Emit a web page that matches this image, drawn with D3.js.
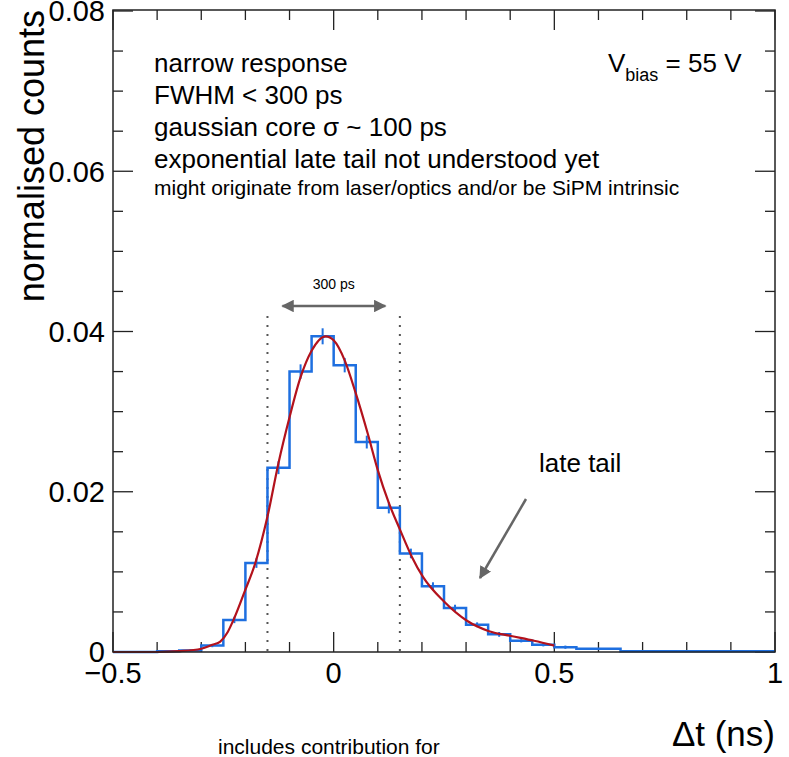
<!DOCTYPE html>
<head>
  <meta charset="utf-8">
  <script src="https://cdn.jsdelivr.net/npm/d3@7"></script>
  <style>
    body { margin: 0; background: #fff; }
    text { font-family: "Liberation Sans", Arial, Helvetica, sans-serif; fill: #000; }
  </style>
</head>
<body>
  <div id="chartDiv"></div>
  <script>

    // histogram: lower bin edges (ns) and normalised counts
    var binLow = [-0.50, -0.45, -0.40, -0.35, -0.30, -0.25, -0.20, -0.15, -0.10, -0.05,
                  0.00, 0.05, 0.10, 0.15, 0.20, 0.25, 0.30, 0.35, 0.40, 0.45,
                  0.50, 0.55, 0.60, 0.65, 0.70, 0.75, 0.80, 0.85, 0.90, 0.95];
    var binWidth = 0.05;
    var counts = [0, 0, 0.0001, 0.0002, 0.0008, 0.0040, 0.0111, 0.0230, 0.0350, 0.0394,
                  0.0358, 0.0262, 0.0180, 0.0123, 0.0082, 0.0055, 0.0034, 0.0022, 0.0014, 0.0009,
                  0.0006, 0.0004, 0.0004, 0.0001, 0.0001, 0.0001, 0.0001, 0.0001, 0.0001, 0.0001];
    var errors = [0, 0, 0.0001, 0.0001, 0.0002, 0.0004, 0.0006, 0.0008, 0.0009, 0.0010,
                  0.0009, 0.0008, 0.0007, 0.0006, 0.0005, 0.0004, 0.0003, 0.0003, 0.0002, 0.0002,
                  0.0002, 0.0001, 0.0001, 0.0001, 0.0001, 0.0001, 0.0001, 0.0001, 0.0001, 0.0001];

    // fitted curve
    var fitT = [-0.5, -0.4, -0.35, -0.30, -0.275, -0.257, -0.24, -0.227, -0.202, -0.177,
                -0.15, -0.125, -0.1, -0.075, -0.05, -0.018, 0, 0.025, 0.05, 0.077,
                0.1, 0.125, 0.15, 0.177, 0.202, 0.25, 0.302, 0.352, 0.402, 0.454, 0.5];
    var fitV = [0, 0, 0.0001, 0.0004, 0.0009, 0.0013, 0.0025, 0.0040, 0.0075, 0.0112,
                0.0169, 0.0236, 0.0293, 0.0343, 0.0376, 0.0394, 0.0389, 0.0364, 0.0323, 0.0273,
                0.0227, 0.0186, 0.0153, 0.0119, 0.0094, 0.0063, 0.0039, 0.0026, 0.0020, 0.0014, 0.0008];

    var xMajor = [-0.5, 0, 0.5, 1];
    var xMajorLabels = ["\u22120.5", "0", "0.5", "1"];
    var xMinor = [-0.4, -0.3, -0.2, -0.1, 0.1, 0.2, 0.3, 0.4, 0.6, 0.7, 0.8, 0.9];
    var yMajor = [0, 0.02, 0.04, 0.06, 0.08];
    var yMajorLabels = ["0", "0.02", "0.04", "0.06", "0.08"];
    var yMinor = [0.005, 0.01, 0.015, 0.025, 0.03, 0.035, 0.045, 0.05, 0.055, 0.065, 0.07, 0.075];
    var fwhmLimits = [-0.15, 0.15];

    var infoLines = ["narrow response", "FWHM < 300 ps", "gaussian core \u03c3 ~ 100 ps",
                     "exponential late tail not understood yet"];
    var noteLine = "might originate from laser/optics and/or be SiPM intrinsic";

    var W = 789, H = 757;
    var mLeft = 113, mRight = 775, mTop = 10, mBottom = 652;

    var x = d3.scaleLinear().domain([-0.5, 1]).range([mLeft, mRight]);
    var y = d3.scaleLinear().domain([0, 0.08]).range([mBottom, 11]);

    var svg = d3.select("#chartDiv").append("svg")
        .attr("width", W)
        .attr("height", H);

    var defs = svg.append("defs");
    defs.append("marker")
        .attr("id", "head")
        .attr("viewBox", "0 0 10 10")
        .attr("refX", 9).attr("refY", 5)
        .attr("markerWidth", 5).attr("markerHeight", 5)
        .attr("markerUnits", "strokeWidth")
        .attr("orient", "auto-start-reverse")
      .append("path")
        .attr("d", "M0,0 L10,5 L0,10 z")
        .style("fill", "#666");

    // ticks on all four sides, ROOT style (pointing inwards)
    var tickG = svg.append("g").style("stroke", "#222").style("stroke-width", 1.3);
    function xTicks(vals, len) {
      vals.forEach(function(v) {
        tickG.append("line").attr("x1", x(v)).attr("x2", x(v)).attr("y1", mBottom).attr("y2", mBottom - len);
        tickG.append("line").attr("x1", x(v)).attr("x2", x(v)).attr("y1", mTop).attr("y2", mTop + len);
      });
    }
    function yTicks(vals, len) {
      vals.forEach(function(v) {
        tickG.append("line").attr("x1", mLeft).attr("x2", mLeft + len).attr("y1", y(v)).attr("y2", y(v));
        tickG.append("line").attr("x1", mRight).attr("x2", mRight - len).attr("y1", y(v)).attr("y2", y(v));
      });
    }
    xTicks(xMajor, 20);
    xTicks(xMinor, 10);
    yTicks(yMajor, 20);
    yTicks(yMinor, 10);

    // dotted FWHM markers
    svg.selectAll("line.fwhm")
        .data(fwhmLimits)
      .enter().append("line")
        .attr("class", "fwhm")
        .attr("x1", function(d) { return x(d); })
        .attr("x2", function(d) { return x(d); })
        .attr("y1", 316)
        .attr("y2", mBottom)
        .style("stroke", "#555")
        .style("stroke-width", 2)
        .style("stroke-dasharray", "2,7");

    // histogram
    var histPts = binLow.map(function(b, i) { return [b, counts[i]]; });
    histPts.push([binLow[binLow.length - 1] + binWidth, counts[counts.length - 1]]);
    var stepLine = d3.line()
        .x(function(d) { return x(d[0]); })
        .y(function(d) { return y(d[1]); })
        .curve(d3.curveStepAfter);
    svg.append("path")
        .attr("d", stepLine(histPts))
        .style("fill", "none")
        .style("stroke", "#1e6fe0")
        .style("stroke-width", 2.5);

    svg.selectAll("line.err")
        .data(binLow)
      .enter().append("line")
        .attr("class", "err")
        .attr("x1", function(d) { return x(d + binWidth / 2); })
        .attr("x2", function(d) { return x(d + binWidth / 2); })
        .attr("y1", function(d, i) { return y(counts[i] - errors[i]); })
        .attr("y2", function(d, i) { return y(counts[i] + errors[i]); })
        .style("stroke", "#1e6fe0")
        .style("stroke-width", 2);

    // fit
    var fitLine = d3.line()
        .x(function(d, i) { return x(fitT[i]); })
        .y(function(d) { return y(d); })
        .curve(d3.curveMonotoneX);
    svg.append("path")
        .attr("d", fitLine(fitV))
        .style("fill", "none")
        .style("stroke", "#b3121c")
        .style("stroke-width", 2.2);

    // frame
    svg.append("rect")
        .attr("x", mLeft).attr("y", mTop)
        .attr("width", mRight - mLeft).attr("height", mBottom - mTop)
        .style("fill", "none")
        .style("stroke", "#222")
        .style("stroke-width", 1.5);

    // tick labels
    svg.selectAll("text.xl")
        .data(xMajor)
      .enter().append("text")
        .attr("class", "xl")
        .attr("x", function(d) { return x(d); })
        .attr("y", 683)
        .attr("text-anchor", "middle")
        .style("font-size", "29px")
        .text(function(d, i) { return xMajorLabels[i]; });

    svg.selectAll("text.yl")
        .data(yMajor)
      .enter().append("text")
        .attr("class", "yl")
        .attr("x", 105)
        .attr("y", function(d) { return y(d); })
        .attr("dy", "0.36em")
        .attr("text-anchor", "end")
        .style("font-size", "29px")
        .text(function(d, i) { return yMajorLabels[i]; });

    // axis titles
    svg.append("text")
        .attr("transform", "translate(44," + mTop + ") rotate(-90)")
        .attr("text-anchor", "end")
        .style("font-size", "36px")
        .text("normalised counts");

    svg.append("text")
        .attr("x", mRight)
        .attr("y", 746)
        .attr("text-anchor", "end")
        .style("font-size", "35px")
        .text("\u0394t (ns)");

    // annotations
    infoLines.forEach(function(t, i) {
      svg.append("text")
          .attr("x", 154)
          .attr("y", 72 + i * 32)
          .style("font-size", "26px")
          .text(t);
    });
    svg.append("text")
        .attr("x", 154)
        .attr("y", 195)
        .style("font-size", "21px")
        .text(noteLine);

    var vb = svg.append("text")
        .attr("x", 608)
        .attr("y", 72)
        .style("font-size", "26px");
    vb.append("tspan").text("V");
    vb.append("tspan").attr("dy", 9).style("font-size", "18px").text("bias");
    vb.append("tspan").attr("dy", -9).text(" = 55 V");

    svg.append("line")
        .attr("x1", x(-0.116)).attr("x2", x(0.117))
        .attr("y1", 306).attr("y2", 306)
        .style("stroke", "#666")
        .style("stroke-width", 2.5)
        .attr("marker-start", "url(#head)")
        .attr("marker-end", "url(#head)");
    svg.append("text")
        .attr("x", x(0))
        .attr("y", 289)
        .attr("text-anchor", "middle")
        .style("font-size", "14px")
        .text("300 ps");

    svg.append("text")
        .attr("x", 539)
        .attr("y", 472)
        .style("font-size", "26px")
        .text("late tail");
    svg.append("line")
        .attr("x1", 526).attr("y1", 499)
        .attr("x2", 480).attr("y2", 578)
        .style("stroke", "#666")
        .style("stroke-width", 2.5)
        .attr("marker-end", "url(#head)");

    svg.append("text")
        .attr("x", 218)
        .attr("y", 754)
        .style("font-size", "21px")
        .text("includes contribution for");

  </script>
</body>
